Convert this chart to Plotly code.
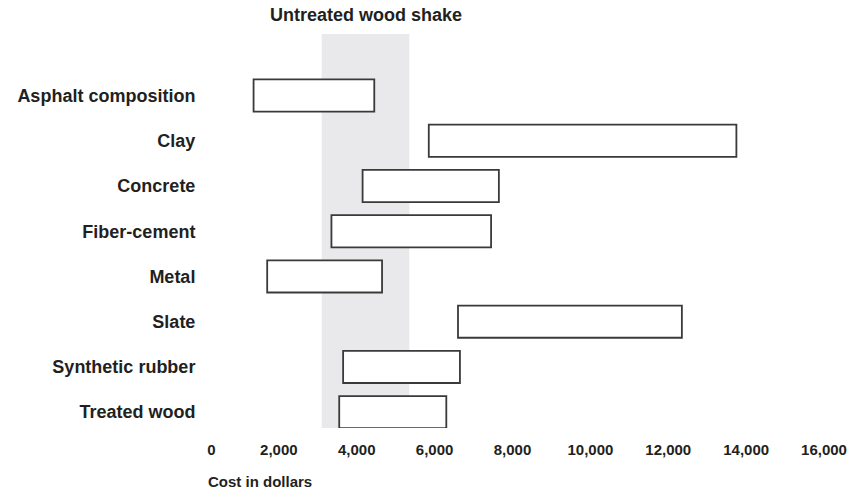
import plotly.graph_objects as go

categories = ["Asphalt composition", "Clay", "Concrete", "Fiber-cement", "Metal",
              "Slate", "Synthetic rubber", "Treated wood"]
cost_low = [1350, 5850, 4150, 3350, 1700, 6600, 3650, 3550]
cost_high = [4450, 13750, 7650, 7450, 4650, 12350, 6650, 6300]
shake_low = 3100
shake_high = 5350
shake_label = "Untreated wood shake"
tick_vals = [0, 2000, 4000, 6000, 8000, 10000, 12000, 14000, 16000]
tick_text = ["\u00a0\u00a0\u00a0\u00a0\u00a00", "2,000", "4,000", "6,000", "8,000",
             "10,000", "12,000", "14,000", "16,000"]
x_title = "Cost in dollars"

FONT = "Liberation Sans, Arial, Helvetica, sans-serif"
TXT = "#231f20"

fig = go.Figure()
fig.add_shape(type="rect", xref="x", yref="paper", x0=shake_low, x1=shake_high,
              y0=0, y1=1, fillcolor="#e9e9eb", line=dict(width=0), layer="below")
fig.add_trace(go.Bar(
    y=categories,
    x=[h - l for l, h in zip(cost_low, cost_high)],
    base=cost_low,
    orientation="h",
    marker=dict(color="white", line=dict(color="#3a3a3a", width=1.8)),
    width=0.71,
    hoverinfo="skip",
))

fig.add_annotation(text="<b>" + shake_label + "</b>", xref="x", yref="paper",
                   x=(shake_low + shake_high) / 2, y=1, yanchor="bottom", yshift=7,
                   showarrow=False, font=dict(family=FONT, size=18, color=TXT))
fig.add_annotation(text="<b>" + x_title + "</b>", xref="paper", yref="paper",
                   x=0, xanchor="left", xshift=5, y=0, yanchor="top", yshift=-43,
                   showarrow=False, font=dict(family=FONT, size=15, color=TXT))

fig.update_layout(
    width=867, height=492,
    margin=dict(l=201, r=43, t=34, b=64),
    paper_bgcolor="white", plot_bgcolor="rgba(0,0,0,0)",
    showlegend=False,
    font=dict(family=FONT, size=15, color=TXT),
    xaxis=dict(range=[0, 16000], tickvals=tick_vals,
               ticktext=["<b>" + t + "</b>" for t in tick_text],
               showgrid=False, zeroline=False, showline=False,
               ticks="outside", ticklen=8, tickcolor="rgba(0,0,0,0)",
               tickfont=dict(family=FONT, size=15, color=TXT)),
    yaxis=dict(range=[7.35, -1.36], showgrid=False, zeroline=False, showline=False,
               ticks="outside", ticklen=1, tickcolor="rgba(0,0,0,0)",
               tickfont=dict(family=FONT, size=18, color=TXT),
               tickprefix="<b>", ticksuffix="</b>"),
)
fig.write_html("out.html", config={"displayModeBar": False},
               post_script="document.body.style.margin='0px';document.body.style.padding='0px';")
